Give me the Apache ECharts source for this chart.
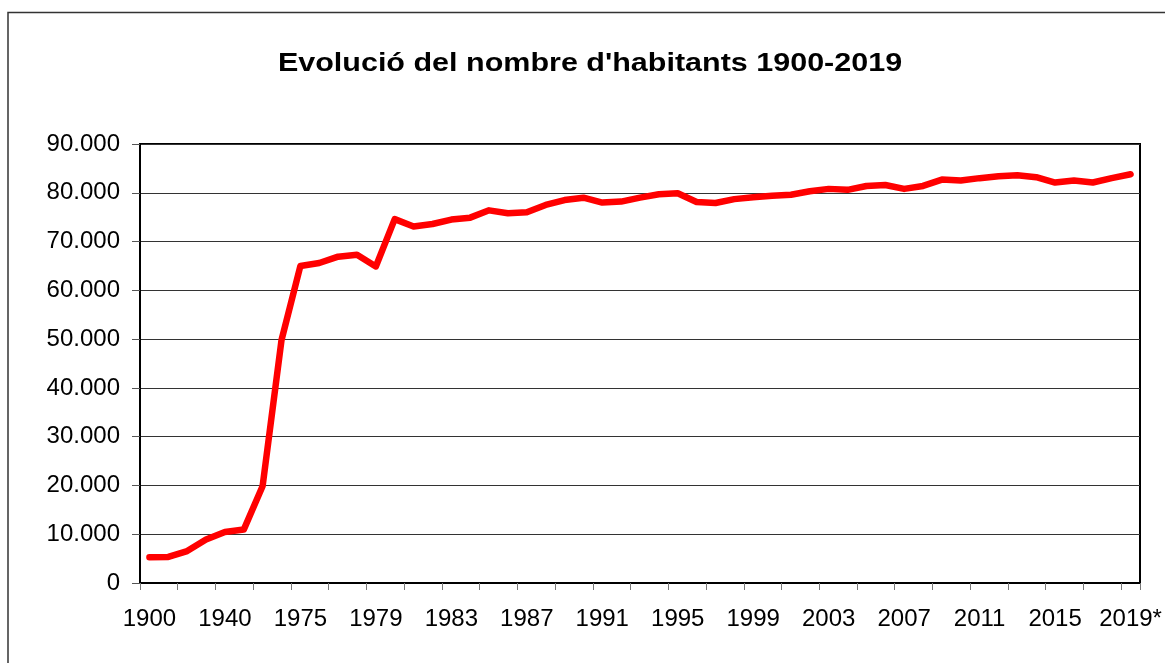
<!DOCTYPE html>
<html>
<head>
<meta charset="utf-8">
<script src="https://cdn.jsdelivr.net/npm/echarts@6/dist/echarts.min.js"></script>
<style>
html,body{margin:0;padding:0;background:#fff;}
#chart{width:1165px;height:663px;}
</style>
</head>
<body>
<div id="chart"></div>
<script>
var titleText = "Evolució del nombre d'habitants 1900-2019";
var categories = ["1900","1910","1920","1930","1940","1950","1960","1970",
  "1975","1976","1977","1978","1979","1980","1981","1982","1983","1984","1985","1986","1987","1988","1989",
  "1990","1991","1992","1993","1994","1995","1996","1997","1998","1999","2000","2001","2002","2003","2004",
  "2005","2006","2007","2008","2009","2010","2011","2012","2013","2014","2015","2016","2017","2018","2019*"];
var habitants = [5300,5350,6550,8900,10450,10950,19900,49800,
  65000,65600,66900,67300,64900,74600,73100,73600,74500,74900,76400,75800,76000,77500,78500,
  79000,78000,78200,79000,79700,79900,78100,77900,78700,79100,79400,79600,80300,80800,80600,
  81400,81600,80800,81400,82700,82500,83000,83400,83600,83200,82100,82500,82100,83000,83800];
var yMin = 0, yMax = 90000, yStep = 10000;

function fmt(v){
  return String(v).replace(/\B(?=(\d{3})+(?!\d))/g, '.');
}

var chart = echarts.init(document.getElementById('chart'), null, {renderer:'canvas'});
chart.setOption({
  animation: false,
  backgroundColor: '#ffffff',
  graphic: [
    {type:'rect', z:-10, silent:true, shape:{x:8, y:12.5, width:1300, height:800},
     style:{fill:'none', stroke:'#333', lineWidth:1.5}},
    {type:'text', x:590, y:64, scaleX:1.22, scaleY:1.02, silent:true,
     style:{text:titleText, fontFamily:'Liberation Sans, Arial, sans-serif', fontWeight:'bold', fontSize:25,
            fill:'#000', align:'center', verticalAlign:'middle'}}
  ],
  grid: {left:140, right:25, top:144, bottom:80, show:true, borderColor:'#000', borderWidth:2, backgroundColor:'transparent'},
  xAxis: {
    type:'category', data:categories, boundaryGap:true,
    axisLine:{show:true, lineStyle:{color:'#000', width:2}},
    axisTick:{show:true, interval:1, length:7, lineStyle:{color:'#777', width:1}},
    axisLabel:{interval:3, margin:24, color:'#000', fontSize:24, fontFamily:'Liberation Sans, Arial, sans-serif'},
    splitLine:{show:false}
  },
  yAxis: {
    type:'value', min:yMin, max:yMax, interval:yStep,
    axisLine:{show:true, lineStyle:{color:'#000', width:2}},
    axisTick:{show:true, length:8, lineStyle:{color:'#555', width:1}},
    axisLabel:{margin:20, color:'#000', fontSize:24, fontFamily:'Liberation Sans, Arial, sans-serif', formatter:fmt},
    splitLine:{show:true, lineStyle:{color:'#333', width:1}}
  },
  series: [{
    type:'line', data:habitants, symbol:'none', smooth:false,
    lineStyle:{color:'#ff0000', width:6.5, cap:'round', join:'round'}
  }]
});
</script>
</body>
</html>
